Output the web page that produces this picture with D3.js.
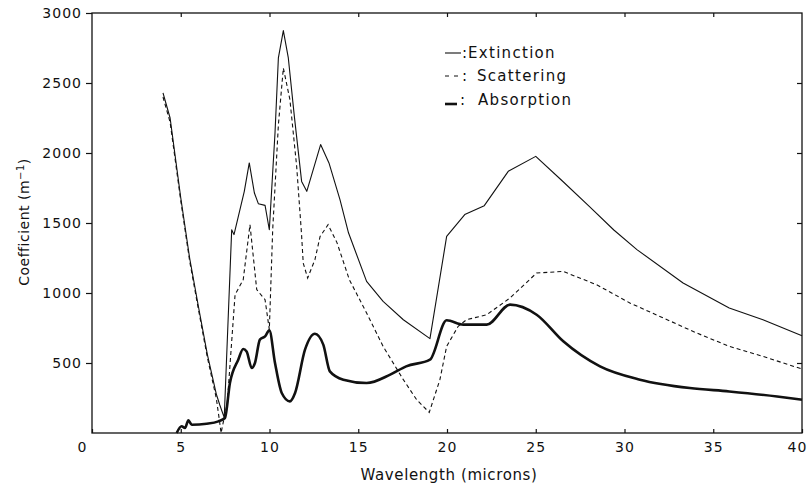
<!DOCTYPE html>
<html>
<head>
<meta charset="utf-8">
<script src="https://cdn.jsdelivr.net/npm/d3@7"></script>
<style>
  body { margin: 0; background: #fff; }
  svg text { font-family: "DejaVu Sans", sans-serif; fill: #111; }
</style>
</head>
<body>
<svg id="chart" width="809" height="484"></svg>
<script>
// wavelength (microns) / coefficient (m^-1)
var extX = [4.0, 4.4, 5.0, 5.5, 6.0, 6.5, 7.0, 7.2, 7.45, 7.87, 8.0, 8.58, 8.86, 9.15, 9.37, 9.75, 9.99,
            10.31, 10.5, 10.78, 11.06, 11.4, 11.81, 12.1, 12.88, 13.35, 13.97, 14.45, 15.47, 16.4, 17.54,
            19.04, 19.98, 21.0, 22.1, 23.45, 25.0, 26.5, 28.0, 29.4, 30.7, 33.3, 35.9, 37.8, 40.0];
var extY = [2430, 2250, 1680, 1250, 900, 560, 280, 200, 110, 1452, 1417, 1726, 1929, 1714, 1638, 1626, 1452,
            2143, 2679, 2874, 2679, 2262, 1797, 1726, 2060, 1929, 1667, 1430, 1083, 940, 809,
            674, 1404, 1560, 1624, 1869, 1976, 1800, 1620, 1450, 1310, 1071, 893, 809, 695];

var scaX = [4.0, 4.4, 5.0, 5.5, 6.0, 6.5, 7.0, 7.2, 7.27, 7.62, 8.06, 8.52, 8.9, 9.28, 9.75, 9.99,
            10.18, 10.5, 10.78, 11.15, 11.53, 11.8, 11.9, 12.15, 12.56, 12.85, 13.3, 13.8, 14.5, 15.47,
            16.4, 17.54, 18.29, 19.0, 19.6, 19.98, 20.63, 21.1, 22.24, 23.55, 25.05, 26.55, 28.43, 30.3,
            32.2, 34.07, 35.9, 37.8, 40.0];
var scaY = [2400, 2220, 1660, 1230, 880, 540, 250, 71, 0, 214, 988, 1095, 1488, 1024, 952, 738,
            1452, 2200, 2607, 2381, 1905, 1429, 1214, 1107, 1238, 1404, 1488, 1360, 1095, 857,
            619, 381, 238, 147, 381, 619, 762, 809, 845, 964, 1143, 1154, 1059, 929,
            821, 714, 619, 547, 457];

var absX = [4.77, 5.05, 5.24, 5.43, 5.62, 6.46, 7.12, 7.49, 7.77, 8.24, 8.52, 8.71, 9.0, 9.18, 9.46, 9.75, 9.99,
            10.31, 10.69, 11.15, 11.44, 12.0, 12.56, 13.03, 13.4, 14.16, 15.47, 16.8, 17.7, 19.04, 19.98,
            20.92, 22.24, 23.55, 25.05, 26.55, 28.62, 30.87, 33.68, 35.9, 38.6, 40.0];
var absY = [0, 48, 36, 90, 59, 66, 83, 107, 357, 524, 600, 583, 464, 500, 667, 690, 733,
            500, 286, 226, 286, 595, 709, 631, 440, 381, 357, 417, 476, 524, 805,
            774, 774, 917, 845, 655, 476, 381, 321, 297, 261, 238];

var xTicks = [0, 5, 10, 15, 20, 25, 30, 35, 40];
var yTicks = [500, 1000, 1500, 2000, 2500, 3000];
var legendNames = ["Extinction", "Scattering", "Absorption"];

var svg = d3.select("#chart"),
    margin = {top: 13, right: 7, bottom: 51, left: 92},
    width = 809 - margin.left - margin.right,
    height = 484 - margin.top - margin.bottom,
    g = svg.append("g").attr("transform", "translate(" + margin.left + "," + margin.top + ")");

var x = d3.scaleLinear().domain([0, 40]).range([0, width]),
    y = d3.scaleLinear().domain([0, 3000]).range([height, 0]);

// frame
g.append("rect")
    .attr("width", width).attr("height", height)
    .attr("fill", "none").attr("stroke", "#111").attr("stroke-width", 1.3);

// bottom axis, ticks point inward
var xa = g.append("g")
    .attr("transform", "translate(0," + height + ")")
    .call(d3.axisBottom(x).tickValues(xTicks).tickSize(-4).tickPadding(9).tickFormat(d3.format("d")));
xa.select(".domain").remove();
xa.selectAll("text").style("font-size", "14px").style("letter-spacing", "1px")
    .attr("dx", function(d) { return d === 0 ? -10 : (d === 40 ? -5 : 0); });

// top ticks
g.append("g").call(d3.axisTop(x).tickValues(xTicks.slice(1, -1)).tickSize(-4).tickFormat(""))
    .select(".domain").remove();

// left axis, ticks outward
var ya = g.append("g").call(d3.axisLeft(y).tickValues(yTicks).tickSize(6).tickPadding(4).tickFormat(d3.format("d")));
ya.select(".domain").remove();
ya.selectAll("text").style("font-size", "14px").style("letter-spacing", "1px");

// right ticks
g.append("g").attr("transform", "translate(" + width + ",0)")
    .call(d3.axisRight(y).tickValues(yTicks.slice(0, -1)).tickSize(-5).tickFormat(""))
    .select(".domain").remove();

svg.selectAll(".tick line").attr("stroke", "#111").attr("stroke-width", 1.2);

// curves
function pts(xs, ys) {
    return xs.map(function(d, i) { return [d, ys[i]]; });
}
var line = d3.line().x(function(d) { return x(d[0]); }).y(function(d) { return y(d[1]); }),
    smooth = d3.line().curve(d3.curveMonotoneX).x(function(d) { return x(d[0]); }).y(function(d) { return y(d[1]); });

g.append("path").datum(pts(scaX, scaY))
    .attr("fill", "none").attr("stroke", "#111").attr("stroke-width", 1.1)
    .attr("stroke-dasharray", "4,3").attr("d", line);

g.append("path").datum(pts(extX, extY))
    .attr("fill", "none").attr("stroke", "#111").attr("stroke-width", 1.1)
    .attr("stroke-linejoin", "round").attr("d", line);

g.append("path").datum(pts(absX, absY))
    .attr("fill", "none").attr("stroke", "#111").attr("stroke-width", 2.6)
    .attr("stroke-linejoin", "round").attr("d", smooth);

// legend
var lg = svg.append("g").attr("transform", "translate(445,0)");
lg.append("line").attr("x1", 0).attr("x2", 16).attr("y1", 53).attr("y2", 53)
    .attr("stroke", "#111").attr("stroke-width", 1.1);
lg.append("line").attr("x1", 0).attr("x2", 15).attr("y1", 76).attr("y2", 76)
    .attr("stroke", "#111").attr("stroke-width", 1.1).attr("stroke-dasharray", "4,5");
lg.append("line").attr("x1", 0).attr("x2", 12).attr("y1", 104).attr("y2", 104)
    .attr("stroke", "#111").attr("stroke-width", 2.6);
var legY = [58, 81, 105], legX = [23, 32, 33], colX = [17, 17, 15];
legendNames.forEach(function(n, i) {
    lg.append("text").attr("x", colX[i]).attr("y", legY[i])
        .style("font-size", "15px").text(":");
    lg.append("text").attr("x", legX[i]).attr("y", legY[i])
        .style("font-size", "15px").style("letter-spacing", "1.3px").text(n);
});

// axis titles
svg.append("text").attr("x", 449).attr("y", 480).attr("text-anchor", "middle")
    .style("font-size", "15px").style("letter-spacing", "0.6px").text("Wavelength (microns)");

var yt = svg.append("text").attr("transform", "translate(29,222) rotate(-90)")
    .attr("text-anchor", "middle").style("font-size", "14px").style("letter-spacing", "0.5px");
yt.append("tspan").text("Coefficient (m");
yt.append("tspan").attr("baseline-shift", "super").style("font-size", "10px").text("−1");
yt.append("tspan").text(")");
</script>
</body>
</html>
